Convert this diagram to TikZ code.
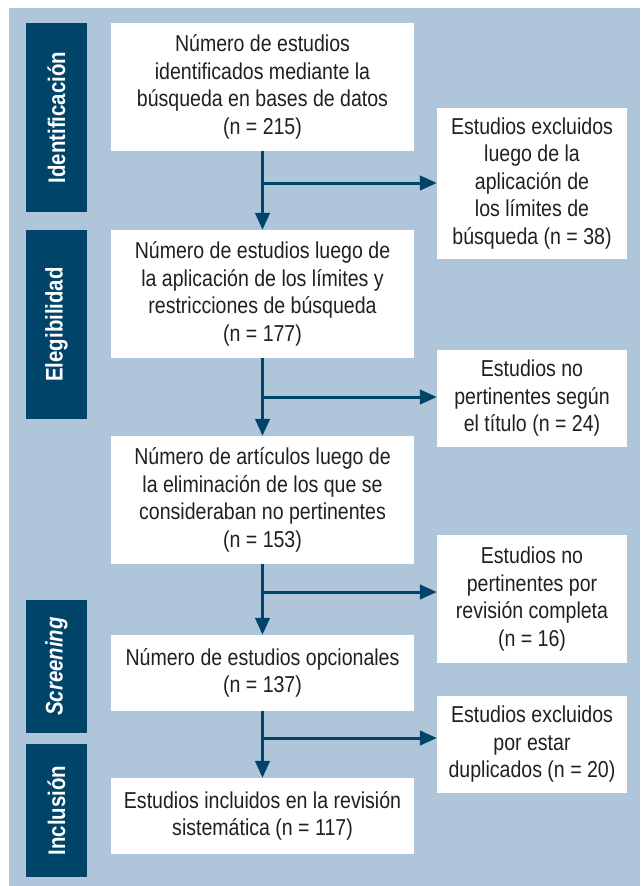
\documentclass[tikz,border=0pt]{standalone}
\usepackage{fontspec}
\setmainfont{Liberation Sans}[FakeStretch=0.85]
\usetikzlibrary{arrows.meta}
\definecolor{fondo}{RGB}{175,198,218}
\definecolor{oscuro}{RGB}{0,68,105}
\definecolor{texto}{RGB}{35,31,32}

\begin{document}
\begin{tikzpicture}[x=1pt, y=-1pt,
	box/.style={fill=white, text=texto, align=center, inner sep=0pt,
		minimum width=303pt, font=\fontsize{23}{27.5}\selectfont},
	side/.style={box, minimum width=190pt},
	phase/.style={fill=oscuro, text=white, rotate=90, inner sep=0pt,
		minimum height=61pt, font=\fontsize{24}{28}\selectfont\bfseries},
	flow/.style={draw=oscuro, line width=3pt, -{Triangle[length=17pt, width=14.5pt]}}]

	\useasboundingbox (0,0) rectangle (640,886);
	\fill[fondo] (9,8) rectangle (640,886);

	\node[phase, minimum width=189pt] (p1) at (56.5,117.5) {Identificación};
	\node[phase, minimum width=189pt] (p2) at (56.5,324.5) {Elegibilidad};
	\node[phase, minimum width=133pt] (p3) at (56.5,666.5) {\itshape Screening};
	\node[phase, minimum width=133pt] (p4) at (56.5,810.5) {Inclusión};

	\node[box, minimum height=128pt] (1) at (262.5,87) {Número de estudios\\identificados mediante la\\búsqueda en bases de datos\\(n = 215)};
	\node[box, minimum height=128pt] (2) at (262.5,294) {Número de estudios luego de\\la aplicación de los límites y\\restricciones de búsqueda\\(n = 177)};
	\node[box, minimum height=128pt] (3) at (262.5,500) {Número de artículos luego de\\la eliminación de los que se\\consideraban no pertinentes\\(n = 153)};
	\node[box, minimum height=76pt] (4) at (262.5,673) {Número de estudios opcionales\\(n = 137)};
	\node[box, minimum height=76pt] (5) at (262.5,816) {Estudios incluidos en la revisión\\sistemática (n = 117)};

	\node[side, minimum height=151pt] (a) at (532,183.5) {Estudios excluidos\\luego de la\\aplicación de\\los límites de\\búsqueda (n = 38)};
	\node[side, minimum height=97pt] (b) at (532,398.5) {Estudios no\\pertinentes según\\el título (n = 24)};
	\node[side, minimum height=128pt] (c) at (532,599) {Estudios no\\pertinentes por\\revisión completa\\(n = 16)};
	\node[side, minimum height=97pt] (d) at (532,744.5) {Estudios excluidos\\por estar\\duplicados (n = 20)};

	\coordinate (j1) at (263,183);
	\coordinate (j2) at (263,397);
	\coordinate (j3) at (263,592);
	\coordinate (j4) at (263,738);

	\draw[flow] (1) -- (2);
	\draw[flow] (2) -- (3);
	\draw[flow] (3) -- (4);
	\draw[flow] (4) -- (5);
	\draw[flow] (j1) -- (j1 -| a.west);
	\draw[flow] (j2) -- (j2 -| b.west);
	\draw[flow] (j3) -- (j3 -| c.west);
	\draw[flow] (j4) -- (j4 -| d.west);

\end{tikzpicture}
\end{document}
